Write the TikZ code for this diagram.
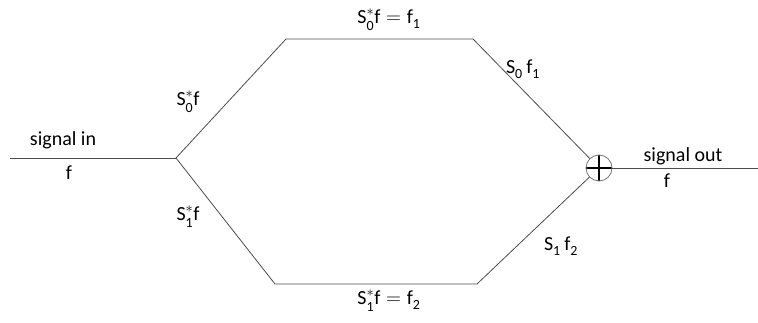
\documentclass[tikz,border=0pt]{standalone}
\usepackage{fontspec}
\setmainfont{Carlito}
\usepackage{tikz}
\usetikzlibrary{positioning}
\newcommand{\sbs}[1]{_{\raisebox{-0.25ex}{$\scriptstyle\mathrm{#1}$}}}
\tikzstyle{wire} = [line width=0.8pt, black!70]
\tikzstyle{lbl} = [font=\fontsize{20}{24}\selectfont, inner sep=1pt]
\tikzstyle{adder} = [circle, draw=black!55, line width=0.8pt, minimum size=26pt, inner sep=0pt,
  path picture={\draw[line width=2.4pt, black]
    (path picture bounding box.north) -- (path picture bounding box.south)
    (path picture bounding box.west) -- (path picture bounding box.east);}]

\begin{document}
\begin{tikzpicture}[x=1pt,y=-1pt]
\useasboundingbox (0,0) rectangle (758,323);

% branch points
\coordinate (in) at (10,158);
\coordinate (split) at (176,158);
\coordinate (upleft) at (286,39);
\coordinate (upright) at (473,39);
\coordinate (lowleft) at (275,284);
\coordinate (lowright) at (477,284);
\node[adder] (sum) at (599,168) {};
\coordinate (out) at (758,168);

% wires
\draw[wire] (in) -- (split);
\draw[wire] (split) -- (upleft) -- (upright) -- (sum);
\draw[wire] (split) -- (lowleft) -- (lowright) -- (sum);
\draw[wire] (sum) -- (out);

% labels
\node[lbl] (inname) at (63,140) {signal in};
\node[lbl] (insig) at (69,173) {f};
\node[lbl] (outname) at (683,156) {signal out};
\node[lbl] (outsig) at (667,181) {f};
\node[lbl] (upana) at (188,102) {$\mathrm{S}^*\sbs{0}\mathrm{f}$};
\node[lbl] (lowana) at (188,217) {$\mathrm{S}^*\sbs{1}\mathrm{f}$};
\node[lbl] (upcoef) at (389,20) {$\mathrm{S}^*\sbs{0}\mathrm{f} = \mathrm{f}\sbs{1}$};
\node[lbl] (lowcoef) at (389,301) {$\mathrm{S}^*\sbs{1}\mathrm{f} = \mathrm{f}\sbs{2}$};
\node[lbl] (upsyn) at (523,69) {$\mathrm{S}\sbs{0}\,\mathrm{f}\sbs{1}$};
\node[lbl] (lowsyn) at (561,246) {$\mathrm{S}\sbs{1}\,\mathrm{f}\sbs{2}$};
\end{tikzpicture}
\end{document}
